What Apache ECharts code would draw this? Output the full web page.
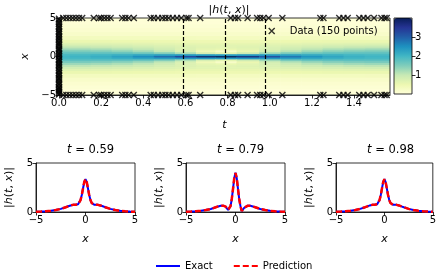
<!DOCTYPE html>
<html>
<head>
<meta charset="utf-8">
<script src="https://cdn.jsdelivr.net/npm/echarts@6/dist/echarts.min.js"></script>
<style>
html,body{margin:0;padding:0;background:#fff;}
#chart{width:439px;height:278px;}
</style>
</head>
<body>
<div id="chart"></div>
<script>
// ---- data ----
// heatmap |h(t,x)|: column times, row positions (x >= 0; picture is symmetric in x)
const heatT = [0, 0.1, 0.2, 0.3, 0.4, 0.5, 0.6, 0.7, 0.785, 0.9, 1.0, 1.1, 1.2, 1.3, 1.4, 1.5];
const heatX = [0, 0.25, 0.5, 0.75, 1, 1.25, 1.5, 1.75, 2, 2.5, 3, 3.5, 4, 4.5, 5];
const heatZ = [
  [2.00,2.03,2.12,2.29,2.55,2.92,3.39,3.84,4.00,3.72,3.25,2.80,2.47,2.24,2.09,2.02],
  [1.94,1.96,2.02,2.11,2.23,2.34,2.41,2.39,2.36,2.40,2.40,2.31,2.19,2.08,1.99,1.95],
  [1.77,1.77,1.76,1.73,1.65,1.48,1.19,0.79,0.60,0.91,1.29,1.54,1.68,1.74,1.77,1.77],
  [1.55,1.53,1.48,1.40,1.26,1.04,0.76,0.42,0.22,0.52,0.85,1.11,1.30,1.43,1.50,1.54],
  [1.30,1.28,1.23,1.15,1.04,0.89,0.73,0.60,0.55,0.63,0.78,0.94,1.07,1.18,1.25,1.29],
  [1.06,1.05,1.01,0.96,0.89,0.80,0.73,0.67,0.65,0.68,0.75,0.83,0.91,0.98,1.03,1.05],
  [0.85,0.84,0.82,0.79,0.75,0.71,0.67,0.64,0.64,0.65,0.68,0.72,0.76,0.80,0.83,0.85],
  [0.68,0.67,0.66,0.64,0.62,0.60,0.58,0.57,0.57,0.57,0.59,0.61,0.63,0.65,0.66,0.67],
  [0.53,0.53,0.52,0.51,0.50,0.49,0.48,0.48,0.48,0.48,0.49,0.50,0.51,0.52,0.53,0.53],
  [0.33,0.33,0.32,0.32,0.32,0.32,0.32,0.31,0.31,0.31,0.32,0.32,0.32,0.32,0.32,0.33],
  [0.20,0.20,0.20,0.20,0.20,0.20,0.20,0.20,0.20,0.20,0.20,0.20,0.20,0.20,0.20,0.20],
  [0.12,0.12,0.12,0.12,0.12,0.12,0.12,0.12,0.12,0.12,0.12,0.12,0.12,0.12,0.12,0.12],
  [0.07,0.07,0.07,0.07,0.07,0.07,0.07,0.07,0.07,0.07,0.07,0.07,0.07,0.07,0.07,0.07],
  [0.04,0.04,0.04,0.04,0.04,0.04,0.04,0.04,0.04,0.04,0.04,0.04,0.04,0.04,0.04,0.04],
  [0.03,0.03,0.03,0.03,0.03,0.03,0.03,0.03,0.03,0.03,0.03,0.03,0.03,0.03,0.03,0.03]
];
const tMax = 1.5708;

// training data: initial points (t = 0) and boundary times (x = +/-5)
const initX = [-4.95,-4.8,-4.6,-4.45,-4.3,-4.1,-3.95,-3.7,-3.55,-3.3,-3.1,-2.9,-2.75,-2.5,-2.35,-2.1,-1.9,-1.75,-1.5,-1.3,
  -1.1,-0.95,-0.7,-0.5,-0.35,-0.1,0.1,0.3,0.45,0.7,0.9,1.05,1.3,1.5,1.7,1.85,2.1,2.3,2.5,2.7,
  2.95,3.15,3.35,3.6,3.8,4.0,4.25,4.45,4.7,4.9];
const boundaryT = [0.02,0.035,0.05,0.065,0.08,0.095,0.11,0.165,0.19,0.2,0.215,0.23,0.245,0.30,0.315,0.33,0.355,
  0.435,0.45,0.47,0.49,0.505,0.52,0.54,0.56,0.58,0.605,0.615,0.67,0.815,0.835,0.85,0.895,0.94,0.955,0.97,0.995,
  1.06,1.24,1.255,1.33,1.35,1.37,1.425,1.445,1.465,1.495,1.53,1.545,1.555];

// slices
const sliceTimes = [0.59, 0.79, 0.98];
const sliceX = [-5,-4.5,-4,-3.5,-3,-2.5,-2,-1.75,-1.5,-1.25,-1,-0.875,-0.75,-0.66,-0.625,-0.5,-0.375,-0.25,-0.125,0,
  0.125,0.25,0.375,0.5,0.625,0.66,0.75,0.875,1,1.25,1.5,1.75,2,2.5,3,3.5,4,4.5,5];
const exact059 = [0.03,0.04,0.07,0.12,0.20,0.32,0.49,0.58,0.67,0.73,0.75,0.75,0.79,0.87,0.92,1.22,1.73,2.40,3.06,3.34,
  3.06,2.40,1.73,1.22,0.92,0.87,0.79,0.75,0.75,0.73,0.67,0.58,0.49,0.32,0.20,0.12,0.07,0.04,0.03];
const exact079 = [0.03,0.04,0.07,0.12,0.20,0.31,0.48,0.57,0.64,0.65,0.55,0.43,0.22,0.02,0.10,0.60,1.33,2.36,3.47,4.00,
  3.47,2.36,1.33,0.60,0.10,0.02,0.22,0.43,0.55,0.65,0.64,0.57,0.48,0.31,0.20,0.12,0.07,0.04,0.03];
const exact098 = [0.03,0.04,0.07,0.12,0.20,0.32,0.49,0.58,0.67,0.73,0.75,0.75,0.79,0.87,0.92,1.22,1.73,2.41,3.06,3.34,
  3.06,2.41,1.73,1.22,0.92,0.87,0.79,0.75,0.75,0.73,0.67,0.58,0.49,0.32,0.20,0.12,0.07,0.04,0.03];
const pred059 = [0.03,0.04,0.07,0.12,0.20,0.32,0.49,0.58,0.67,0.73,0.75,0.75,0.79,0.87,0.92,1.22,1.73,2.40,3.06,3.36,
  3.06,2.40,1.73,1.22,0.92,0.87,0.79,0.75,0.75,0.73,0.67,0.58,0.49,0.32,0.20,0.12,0.07,0.04,0.03];
const pred079 = [0.03,0.04,0.07,0.12,0.20,0.31,0.48,0.57,0.64,0.65,0.55,0.43,0.22,0.03,0.10,0.60,1.33,2.36,3.47,3.98,
  3.47,2.36,1.33,0.60,0.10,0.03,0.22,0.43,0.55,0.65,0.64,0.57,0.48,0.31,0.20,0.12,0.07,0.04,0.03];
const pred098 = [0.03,0.04,0.07,0.12,0.20,0.32,0.49,0.58,0.67,0.73,0.75,0.75,0.79,0.87,0.92,1.22,1.73,2.41,3.06,3.35,
  3.06,2.41,1.73,1.22,0.92,0.87,0.79,0.75,0.75,0.73,0.67,0.58,0.49,0.32,0.20,0.12,0.07,0.04,0.03];

const topTicks = [0, 0.2, 0.4, 0.6, 0.8, 1.0, 1.2, 1.4];
const cbTicks = [1, 2, 3];
const ylgnbu = ['#ffffd9','#edf8b1','#c7e9b4','#7fcdbb','#41b6c4','#1d91c0','#225ea8','#253494','#081d58'];

// ---- build ----
const FONT = 'DejaVu Sans';
const minus = v => String(v).replace('-', '\u2212');

const heatCells = [];
heatX.forEach((x, r) => {
  const lo = r === 0 ? 0 : (heatX[r - 1] + x) / 2;
  const hi = r === heatX.length - 1 ? 5 : (x + heatX[r + 1]) / 2;
  heatT.forEach((t, c) => {
    const t0 = c === 0 ? 0 : (heatT[c - 1] + t) / 2;
    const t1 = c === heatT.length - 1 ? tMax : (t + heatT[c + 1]) / 2;
    const v = heatZ[r][c];
    if (r === 0) {
      heatCells.push([t0, t1, -hi, hi, v]);
    } else {
      heatCells.push([t0, t1, lo, hi, v]);
      heatCells.push([t0, t1, -hi, -lo, v]);
    }
  });
});

const pts = [];
initX.forEach(x => pts.push([0, x]));
boundaryT.forEach(t => { pts.push([t, 5]); pts.push([t, -5]); });

const axisCommon = {
  axisLine: {show: true, onZero: false, lineStyle: {color: '#000', width: 0.8}},
  axisTick: {show: true, inside: false, length: 3.5, lineStyle: {color: '#000', width: 0.8}},
  axisLabel: {color: '#000', fontFamily: FONT, fontSize: 10, margin: 3},
  splitLine: {show: false},
  nameTextStyle: {color: '#000', fontFamily: FONT, fontSize: 11, fontStyle: 'italic'}
};
function ax(extra) {
  const o = JSON.parse(JSON.stringify(axisCommon));
  for (const k in extra) {
    if (typeof extra[k] === 'object' && !Array.isArray(extra[k]) && o[k]) Object.assign(o[k], extra[k]);
    else o[k] = extra[k];
  }
  return o;
}

const panelLeft = [36, 186, 336];
const grids = [{left: 59, top: 18, width: 331, height: 77, show: true, borderColor: '#000', borderWidth: 0.8, z: 10}];
panelLeft.forEach(l => grids.push({left: l, top: 163, width: 99, height: 49, show: true, borderColor: '#000', borderWidth: 0.8}));
grids.push({left: 394, top: 18, width: 18, height: 76, show: true, borderColor: '#000', borderWidth: 0.8, z: 10});

const hName = '|{i|h}({i|t}, {i|x})|';
const richI = {i: {fontStyle: 'italic', fontFamily: FONT, fontSize: 11}};

const xAxes = [ax({type: 'value', gridIndex: 0, min: 0, max: tMax,
  axisLabel: {customValues: topTicks, formatter: v => v.toFixed(1)},
  axisTick: {customValues: topTicks},
  name: 't', nameLocation: 'middle', nameGap: 25})];
const yAxes = [ax({type: 'value', gridIndex: 0, min: -5, max: 5, interval: 5,
  axisLabel: {formatter: minus},
  name: 'x', nameLocation: 'middle', nameGap: 26, nameRotate: 90})];
panelLeft.forEach((l, i) => {
  xAxes.push(ax({type: 'value', gridIndex: i + 1, min: -5, max: 5, interval: 5,
    axisLabel: {formatter: minus}, name: 'x', nameLocation: 'middle', nameGap: 22}));
  yAxes.push(ax({type: 'value', gridIndex: i + 1, min: 0, max: 5, interval: 5,
    name: hName, nameLocation: 'middle', nameGap: 21, nameRotate: 90,
    nameTextStyle: {fontStyle: 'normal', rich: richI}}));
});
xAxes.push({type: 'value', gridIndex: 4, show: false, min: 0, max: 1});
yAxes.push(ax({type: 'value', gridIndex: 4, position: 'right', min: 0, max: 4,
  axisLine: {show: false},
  axisLabel: {customValues: cbTicks}, axisTick: {customValues: cbTicks}}));

const series = [
  {
    type: 'custom', xAxisIndex: 0, yAxisIndex: 0, data: heatCells, encode: {x: [0, 1], y: [2, 3]},
    silent: true, clip: true,
    renderItem: (params, api) => {
      const p0 = api.coord([api.value(0), api.value(3)]);
      const p1 = api.coord([api.value(1), api.value(2)]);
      return {type: 'rect', shape: {x: p0[0], y: p0[1], width: p1[0] - p0[0] + 0.6, height: p1[1] - p0[1] + 0.6},
        style: {fill: api.visual('color')}};
    }
  },
  {
    type: 'scatter', name: 'Data (150 points)', xAxisIndex: 0, yAxisIndex: 0, data: pts, z: 12,
    symbol: 'path://M0,0L1,1M1,0L0,1', symbolSize: 6, clip: false,
    itemStyle: {color: 'rgba(0,0,0,0)', borderColor: '#000', borderWidth: 1.4},
    markLine: {silent: true, symbol: ['none', 'none'], label: {show: false},
      lineStyle: {color: '#000', type: [4, 2], width: 1.2},
      data: sliceTimes.map(t => ({xAxis: t}))}
  }
];
const exacts = [exact059, exact079, exact098];
const preds = [pred059, pred079, pred098];
exacts.forEach((arr, i) => series.push({
  type: 'line', name: 'Exact', xAxisIndex: i + 1, yAxisIndex: i + 1, symbol: 'none', showSymbol: false,
  data: sliceX.map((x, k) => [x, arr[k]]), lineStyle: {color: '#0000ff', width: 2}, itemStyle: {color: '#0000ff'}, z: 3
}));
preds.forEach((arr, i) => series.push({
  type: 'line', name: 'Prediction', xAxisIndex: i + 1, yAxisIndex: i + 1, symbol: 'none', showSymbol: false,
  data: sliceX.map((x, k) => [x, arr[k]]), lineStyle: {color: '#ff0000', width: 2.5, type: [6, 3]}, itemStyle: {color: '#ff0000'}, z: 4
}));

const titles = [{text: hName, left: 224, top: 0, textAlign: 'center',
  textStyle: {fontFamily: FONT, fontSize: 11, fontWeight: 'normal', color: '#000', rich: richI}}];
sliceTimes.forEach((t, i) => titles.push({
  text: '{i|t} = ' + t.toFixed(2), left: panelLeft[i] + 49.5, top: 139, textAlign: 'center',
  textStyle: {fontFamily: FONT, fontSize: 11.5, fontWeight: 'normal', color: '#000',
    rich: {i: {fontStyle: 'italic', fontFamily: FONT, fontSize: 11.5}}}
}));

const chart = echarts.init(document.getElementById('chart'), null, {renderer: 'canvas'});
chart.setOption({
  animation: false,
  backgroundColor: '#fff',
  title: titles,
  grid: grids,
  xAxis: xAxes,
  yAxis: yAxes,
  visualMap: {type: 'continuous', min: 0, max: 4, dimension: 4, seriesIndex: 0, calculable: false,
    left: 394, top: 18, itemWidth: 18, itemHeight: 76, padding: 0, text: ['', ''], hoverLink: false,
    inRange: {color: ylgnbu}},
  legend: [
    {data: [{name: 'Data (150 points)', icon: 'path://M0,0L1,1M1,0L0,1',
      itemStyle: {color: 'rgba(0,0,0,0)', borderColor: '#000', borderWidth: 1.4}}],
      left: 268, top: 26, itemWidth: 6, itemHeight: 6, padding: 0,
      textStyle: {fontFamily: FONT, fontSize: 10, color: '#000', padding: [0, 0, 0, 10]}},
    {data: [{name: 'Exact', itemStyle: {opacity: 0}}, {name: 'Prediction', itemStyle: {opacity: 0}}],
      left: 155, top: 261, itemWidth: 24, itemHeight: 12, itemGap: 20, padding: 0,
      textStyle: {fontFamily: FONT, fontSize: 10, color: '#000'}}
  ],
  series: series
});
</script>
</body>
</html>
